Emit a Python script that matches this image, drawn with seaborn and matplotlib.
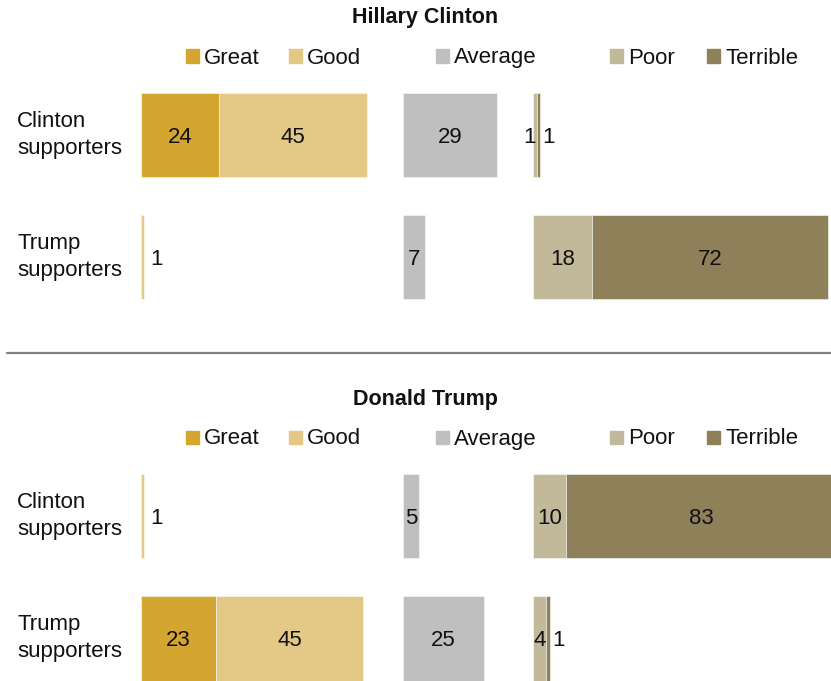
import matplotlib
matplotlib.use("Agg")
import matplotlib.pyplot as plt
from matplotlib.patches import Rectangle
import seaborn as sns

sns.set_theme(style="white")
plt.rcParams["font.family"] = ["Liberation Sans", "DejaVu Sans"]

# Ratings of each candidate by supporters of each side (%)
groups = ["Clinton\nsupporters", "Trump\nsupporters"]
categories = ["Great", "Good", "Average", "Poor", "Terrible"]

clinton_great = [24, 0]
clinton_good = [45, 1]
clinton_average = [29, 7]
clinton_poor = [1, 18]
clinton_terrible = [1, 72]

trump_great = [0, 23]
trump_good = [1, 45]
trump_average = [5, 25]
trump_poor = [10, 4]
trump_terrible = [83, 1]

colors = dict(zip(categories, ["#D4A52F", "#E3C985", "#BFBFBF", "#C2B99A", "#8E815A"]))

# Start of each block of bars on the shared scale
block_start = {"pos": 0, "avg": 80, "neg": 120}

W, H = 831, 681
FS = 16
fig = plt.figure(figsize=(W / 100, H / 100), dpi=100)


def px_axes(top, bottom):
    return fig.add_axes([0, 1 - bottom / H, 1, (bottom - top) / H])


def annotate(ax, x, y, text, dx=0, ha="center"):
    ax.annotate(text, (x, y), xytext=(dx, -5.5), textcoords="offset points",
                ha=ha, va="baseline", fontsize=FS, color="#111111",
                annotation_clip=False)


def draw_panel(ax, title, title_y, legend_y, great, good, avg, poor, terrible):
    h = 0.69
    ec = dict(edgecolor="#FAFAFA", linewidth=0.4)
    for y in range(len(groups)):
        # Positive block: Great then Good
        x0 = block_start["pos"]
        if great[y]:
            ax.barh(y, great[y], left=x0, height=h, color=colors["Great"], **ec)
            annotate(ax, x0 + great[y] / 2, y, str(great[y]))
        if good[y]:
            gl = x0 + great[y]
            ax.barh(y, good[y], left=gl, height=h, color=colors["Good"], **ec)
            if good[y] >= 3:
                annotate(ax, gl + good[y] / 2, y, str(good[y]))
            else:
                annotate(ax, gl + good[y], y, str(good[y]), dx=4, ha="left")
        # Average block
        a0 = block_start["avg"]
        ax.barh(y, avg[y], left=a0, height=h, color=colors["Average"], **ec)
        annotate(ax, a0 + avg[y] / 2, y, str(avg[y]))
        # Negative block: Poor then Terrible
        n0 = block_start["neg"]
        ax.barh(y, poor[y], left=n0, height=h, color=colors["Poor"], **ec)
        if poor[y] >= 3:
            annotate(ax, n0 + poor[y] / 2, y, str(poor[y]))
        else:
            annotate(ax, n0 + poor[y] * 0.7, y, str(poor[y]), ha="right")
        t0 = n0 + poor[y]
        ax.barh(y, terrible[y], left=t0, height=h, color=colors["Terrible"], **ec)
        if terrible[y] >= 3:
            annotate(ax, t0 + terrible[y] / 2, y, str(terrible[y]))
        else:
            annotate(ax, t0 + terrible[y], y, str(terrible[y]), dx=2, ha="left")
        ax.annotate(groups[y], xy=(17 / W, y), xycoords=("figure fraction", "data"),
                    ha="left", va="center", fontsize=FS, color="#111111",
                    linespacing=1.38, annotation_clip=False)

    ax.set_xlim(-141 / 3.27, (W - 141) / 3.27)
    ax.set_axis_off()

    fig.text(425 / W, 1 - title_y / H, title, ha="center", va="center",
             fontsize=15.5, fontweight="bold", color="#111111")
    legend_x = [186, 289, 436, 610, 707]
    for cat, lx in zip(categories, legend_x):
        fig.patches.append(Rectangle((lx / W, 1 - (legend_y + 6.5) / H), 13 / W, 13 / H,
                                     transform=fig.transFigure, color=colors[cat]))
        fig.text((lx + 18) / W, 1 - (legend_y + 7.5) / H, cat, ha="left", va="baseline",
                 fontsize=FS, color="#111111")


spacing = 122
ax1 = px_axes(80, 330)
ax1.set_ylim(1 + (330 - 257) / spacing, -(135.5 - 80) / spacing)
draw_panel(ax1, "Hillary Clinton", 18, 56, clinton_great, clinton_good,
           clinton_average, clinton_poor, clinton_terrible)

ax2 = px_axes(460, 681)
ax2.set_ylim(1 + (681 - 638.5) / spacing, -(516 - 460) / spacing)
draw_panel(ax2, "Donald Trump", 400, 437, trump_great, trump_good,
           trump_average, trump_poor, trump_terrible)

# Divider between the two panels
fig.add_artist(plt.Line2D([7 / W, 1], [1 - 353 / H] * 2, transform=fig.transFigure,
                          color="#808080", linewidth=1.6))

fig.savefig("out.png", dpi=100)
